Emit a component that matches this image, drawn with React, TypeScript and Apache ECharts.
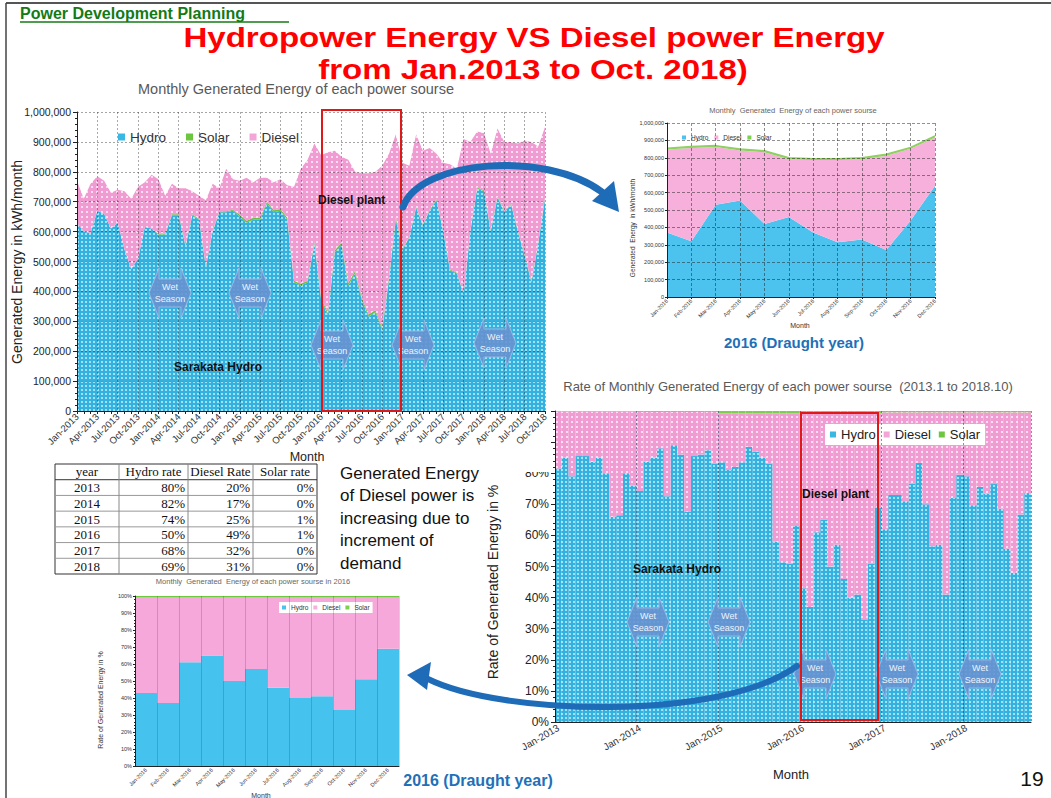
import React, { useEffect, useRef } from "react";
import * as echarts from "echarts";

const MONTH_NAMES = ["Jan", "Feb", "Mar", "Apr", "May", "Jun", "Jul", "Aug", "Sep", "Oct", "Nov", "Dec"];
const YEARS = [2013, 2014, 2015, 2016, 2017, 2018];
const months: string[] = [];
YEARS.forEach((y) => MONTH_NAMES.forEach((m, i) => { if (y < 2018 || i < 10) months.push(`${m}-${y}`); }));
const months2016 = MONTH_NAMES.map((m) => `${m}-2016`);

// Monthly generated energy, thousand kWh (Jan-2013 .. Oct-2018)
const hydroK = [
  630, 600, 595, 670, 660, 610, 630, 540, 475, 510, 615, 610,
  590, 590, 655, 655, 550, 655, 640, 480, 600, 665, 665, 670,
  650, 630, 640, 640, 695, 665, 670, 640, 430, 420, 430, 560,
  370, 320, 530, 555, 420, 460, 370, 315, 330, 270, 440, 640,
  540, 580, 680, 620, 670, 705, 600, 470, 460, 390, 600, 745,
  735, 600, 715, 665, 690, 600, 520, 430, 560, 710,
];
const solarK = [
  0, 0, 0, 0, 0, 0, 0, 0, 0, 0, 0, 0,
  3, 3, 3, 3, 3, 3, 3, 3, 3, 3, 3, 3,
  6, 6, 6, 6, 6, 6, 6, 6, 6, 6, 6, 6,
  8, 8, 8, 8, 8, 8, 8, 8, 8, 8, 8, 8,
  3, 3, 3, 3, 3, 3, 3, 3, 3, 3, 3, 3,
  3, 3, 3, 3, 3, 3, 3, 3, 3, 3,
];
const dieselK = [
  140, 110, 165, 115, 110, 120, 110, 195, 235, 240, 150, 180,
  182, 127, 102, 87, 192, 77, 77, 222, 157, 77, 142, 102,
  114, 144, 119, 134, 79, 94, 99, 109, 314, 384, 404, 329,
  477, 537, 332, 287, 412, 332, 417, 472, 462, 542, 412, 277,
  287, 237, 242, 247, 207, 152, 227, 352, 347, 517, 297, 187,
  192, 257, 227, 232, 207, 292, 382, 467, 322, 237,
];

// 2016 (thousand kWh)
const hydro2016K = [370, 320, 530, 555, 420, 460, 370, 315, 330, 270, 440, 640];
const diesel2016K = [477, 537, 332, 287, 412, 332, 417, 472, 462, 542, 412, 277];
const solar2016K = [8, 8, 8, 8, 8, 8, 8, 8, 8, 8, 8, 8];

// Rates (%)
const hydroRate = [
  81.5, 85, 79, 85.5, 85.5, 83.7, 85, 80, 66, 66.5, 80, 76,
  74.3, 83.7, 85, 88, 72.6, 89, 86, 67.7, 85.5, 86, 87.4, 83,
  83.5, 81, 82, 83.5, 88.5, 87, 85, 83, 58, 51.4, 51, 63,
  43, 37, 61, 65, 50, 57, 46, 40, 41, 33, 51, 69,
  62, 73, 73, 71, 76.7, 83.3, 70, 56.5, 57, 41, 72, 79.5,
  79, 69.7, 75.6, 73.4, 76.5, 68.6, 55.7, 48, 66.7, 73.6,
];
const solarRate = [
  0.2, 0.2, 0.2, 0.2, 0.2, 0.2, 0.2, 0.2, 0.2, 0.2, 0.2, 0.2,
  0.3, 0.3, 0.3, 0.3, 0.3, 0.3, 0.3, 0.3, 0.3, 0.3, 0.3, 0.3,
  0.8, 0.8, 0.8, 0.8, 0.8, 0.8, 0.8, 0.8, 0.8, 0.8, 0.8, 0.8,
  0.8, 0.8, 0.8, 0.8, 0.8, 0.8, 0.8, 0.8, 0.8, 0.8, 0.8, 0.8,
  0.4, 0.4, 0.4, 0.4, 0.4, 0.4, 0.4, 0.4, 0.4, 0.4, 0.4, 0.4,
  0.4, 0.4, 0.4, 0.4, 0.4, 0.4, 0.4, 0.4, 0.4, 0.4,
];
const hydroRate2016 = [43, 37, 61, 65, 50, 57, 46, 40, 41, 33, 51, 69];
const solarRate2016 = [0.8, 0.8, 0.8, 0.8, 0.8, 0.8, 0.8, 0.8, 0.8, 0.8, 0.8, 0.8];

const tableHeader = ["year", "Hydro rate", "Diesel Rate", "Solar rate"];
const tableRows = [
  ["2013", "80%", "20%", "0%"],
  ["2014", "82%", "17%", "0%"],
  ["2015", "74%", "25%", "1%"],
  ["2016", "50%", "49%", "1%"],
  ["2017", "68%", "32%", "0%"],
  ["2018", "69%", "31%", "0%"],
];

const dieselRate = hydroRate.map((h, i) => +(100 - h - solarRate[i]).toFixed(1));
const dieselRate2016 = hydroRate2016.map((h, i) => +(100 - h - solarRate2016[i]).toFixed(1));
const k = (a: number[]) => a.map((v) => v * 1000);

const SANS = '"Liberation Sans", Arial, sans-serif';
const SERIF = '"Liberation Serif", "Times New Roman", serif';
const C_HYDRO = "#41BDE8";
const C_DIESEL = "#F4A8D9";
const C_SOLAR = "#6DBE45";

function makePattern(base: string, dot: string, w: number, h: number, dw: number, dh: number): any {
  try {
    const c = document.createElement("canvas");
    c.width = w; c.height = h;
    const ctx = c.getContext("2d");
    if (!ctx) return base;
    ctx.fillStyle = base; ctx.fillRect(0, 0, w, h);
    ctx.fillStyle = dot; ctx.fillRect(1, 1, dw, dh);
    return { image: c, repeat: "repeat" };
  } catch (e) {
    return base;
  }
}

function wetArrow(cx: number, cy: number) {
  return {
    type: "group", x: cx, y: cy, z: 50,
    children: [
      {
        type: "polygon", z: 50,
        shape: { points: [[-21, 0], [-11, -25], [-11, -14], [11, -14], [11, -25], [21, 0], [11, 25], [11, 14], [-11, 14], [-11, 25]] },
        style: { fill: "#6694D0", stroke: "#9CBBE4", lineWidth: 1, opacity: 0.92 },
      },
      {
        type: "text", z: 51,
        style: { x: 0, y: 0, text: "Wet\nSeason", fill: "#EEF4FC", font: `9px ${SANS}`, textAlign: "center", textVerticalAlign: "middle", lineHeight: 12 },
      },
    ],
  };
}

function txt(x: number, y: number, text: string, font: string, fill = "#222", align = "center", extra: any = {}) {
  return { type: "text", x, y, z: 60, ...extra, style: { x: 0, y: 0, text, font, fill, textAlign: align, textVerticalAlign: "middle" } };
}

function buildTable() {
  const els: any[] = [];
  const xs = [55, 119, 188, 253, 317];
  const top = 464, bottom = 574;
  const rh = (bottom - top) / 7;
  els.push({ type: "rect", z: 60, shape: { x: xs[0], y: top, width: xs[4] - xs[0], height: bottom - top }, style: { fill: "#fff", stroke: "#333", lineWidth: 1 } });
  for (let r = 1; r < 7; r++) {
    els.push({ type: "line", z: 61, shape: { x1: xs[0], y1: top + r * rh, x2: xs[4], y2: top + r * rh }, style: { stroke: r === 1 ? "#333" : "#999", lineWidth: 1 } });
  }
  for (let c = 1; c < 4; c++) {
    els.push({ type: "line", z: 61, shape: { x1: xs[c], y1: top, x2: xs[c], y2: bottom }, style: { stroke: "#888", lineWidth: 1 } });
  }
  const font = `13px ${SERIF}`;
  tableHeader.forEach((h, c) => els.push(txt((xs[c] + xs[c + 1]) / 2, top + rh / 2, h, font, "#111")));
  tableRows.forEach((row, r) => {
    row.forEach((v, c) => {
      const y = top + (r + 1.5) * rh;
      if (c === 0) els.push(txt((xs[0] + xs[1]) / 2, y, v, font, "#111"));
      else els.push(txt(xs[c + 1] - 3, y, v, font, "#111", "right"));
    });
  });
  return els;
}

const graphics: any[] = [
  // frame
  { type: "line", z: 40, shape: { x1: 6, y1: 3, x2: 1051, y2: 3 }, style: { stroke: "#555", lineWidth: 2 } },
  { type: "line", z: 40, shape: { x1: 6, y1: 3, x2: 6, y2: 798 }, style: { stroke: "#444", lineWidth: 1.5 } },
  // heading
  { type: "text", x: 20, y: 13, z: 60, style: { x: 0, y: 0, text: "Power Development Planning", font: `bold 16px ${SANS}`, fill: "#147A14", textAlign: "left", textVerticalAlign: "middle" } },
  { type: "line", z: 60, shape: { x1: 20, y1: 22, x2: 289, y2: 22 }, style: { stroke: "#147A14", lineWidth: 1.5 } },
  { type: "text", x: 534, y: 37, z: 60, scaleX: 1.18, style: { x: 0, y: 0, text: "Hydropower Energy VS Diesel power Energy", font: `bold 28px ${SANS}`, fill: "#FF0000", textAlign: "center", textVerticalAlign: "middle" } },
  { type: "text", x: 533, y: 69, z: 60, scaleX: 1.18, style: { x: 0, y: 0, text: "from Jan.2013 to Oct. 2018)", font: `bold 28px ${SANS}`, fill: "#FF0000", textAlign: "center", textVerticalAlign: "middle" } },
  // main chart titles
  txt(296, 89, "Monthly Generated Energy of each power sourse", `14.5px ${SANS}`, "#595959"),
  txt(17, 262, "Generated Energy in kWh/month", `14px ${SANS}`, "#222", "center", { rotation: Math.PI / 2 }),
  txt(307, 457, "Month", `12.5px ${SANS}`, "#222"),
  // top-right chart texts
  txt(793, 110, "Monthly  Generated  Energy of each power sourse", `7.5px ${SANS}`, "#666"),
  txt(632, 228, "Generated  Energy  in kWh/month", `6.5px ${SANS}`, "#333", "center", { rotation: Math.PI / 2 }),
  txt(800, 325, "Month", `7px ${SANS}`, "#333"),
  txt(794, 342, "2016 (Draught year)", `bold 15px ${SANS}`, "#1E70B8"),
  // bottom-right chart texts
  txt(788, 386, "Rate of Monthly Generated Energy of each power sourse  (2013.1 to 2018.10)", `13px ${SANS}`, "#595959"),
  txt(493, 582, "Rate of Generated Energy in %", `14px ${SANS}`, "#222", "center", { rotation: Math.PI / 2 }),
  txt(791, 774, "Month", `13px ${SANS}`, "#222"),
  // bottom-left chart texts
  txt(253, 581, "Monthly  Generated  Energy of each power sourse in 2016", `7.5px ${SANS}`, "#666"),
  txt(100, 700, "Rate of Generated Energy in %", `7px ${SANS}`, "#333", "center", { rotation: Math.PI / 2 }),
  txt(261, 795, "Month", `7px ${SANS}`, "#333"),
  txt(478, 780, "2016 (Draught year)", `bold 16px ${SANS}`, "#1E70B8"),
  // annotation labels
  txt(318, 200, "Diesel plant", `bold 12px ${SANS}`, "#111", "left"),
  txt(174, 367, "Sarakata Hydro", `bold 12px ${SANS}`, "#111", "left"),
  txt(802, 494, "Diesel plant", `bold 12px ${SANS}`, "#111", "left"),
  txt(633, 569, "Sarakata Hydro", `bold 12px ${SANS}`, "#111", "left"),
  // paragraph
  { type: "text", x: 340, y: 462, z: 60, style: { x: 0, y: 0, text: "Generated Energy\nof Diesel power is\nincreasing due to\nincrement of\ndemand", font: `17px ${SANS}`, fill: "#111", textAlign: "left", textVerticalAlign: "top", lineHeight: 22.5 } },
  txt(1032, 778, "19", `21px ${SANS}`, "#111"),
  // cover the top half of the 80% label of the rate chart
  { type: "rect", z: 45, shape: { x: 518, y: 460, width: 33, height: 12 }, style: { fill: "#fff" } },
  // red boxes
  { type: "rect", z: 55, shape: { x: 322, y: 110, width: 79, height: 301 }, style: { fill: "none", stroke: "#E01818", lineWidth: 2 } },
  { type: "rect", z: 55, shape: { x: 801, y: 413, width: 77, height: 307 }, style: { fill: "none", stroke: "#E01818", lineWidth: 2 } },
  // wet season arrows
  wetArrow(170, 293), wetArrow(250, 293), wetArrow(332, 345), wetArrow(413, 345), wetArrow(495, 343),
  wetArrow(648, 622), wetArrow(729, 622), wetArrow(815, 674), wetArrow(897, 674), wetArrow(980, 674),
  // curved arrows
  { type: "bezierCurve", z: 58, shape: { x1: 403, y1: 207, cpx1: 420, cpy1: 160, cpx2: 545, cpy2: 150, x2: 602, y2: 192 }, style: { stroke: "#1E6BB8", lineWidth: 7, fill: "none", lineCap: "round" } },
  { type: "polygon", z: 58, shape: { points: [[592, 201], [614, 181], [619, 212]] }, style: { fill: "#1E6BB8" } },
  { type: "bezierCurve", z: 58, shape: { x1: 797, y1: 666, cpx1: 720, cpy1: 722, cpx2: 500, cpy2: 715, x2: 428, y2: 679 }, style: { stroke: "#1E6BB8", lineWidth: 6, fill: "none", lineCap: "round" } },
  { type: "polygon", z: 58, shape: { points: [[407, 675], [431, 662], [427, 690]] }, style: { fill: "#1E6BB8" } },
  ...buildTable(),
];

const black = { lineStyle: { color: "#222", width: 1 } };
const tinyLabel = { fontSize: 5.5, color: "#333", fontFamily: SANS };

const legendItems = (names: string[], colors: Record<string, string>) =>
  names.map((n) => ({ name: n, itemStyle: { color: colors[n] } }));

function buildOption() {
  const pHydro = makePattern("#33B2E0", "#A2E0F5", 4, 4, 2, 2);
  const pDiesel = makePattern("#F09BD1", "#FDDDF1", 5, 5, 2, 2);
  const pHydroBar = makePattern("#33B2E0", "#A2E0F5", 4, 4, 2, 2);
  const pDieselBar = makePattern("#F09BD1", "#FDDDF1", 5, 5, 2, 2);
  const big = { Hydro: "#3AB8E4", Diesel: "#F3A5D7", Solar: "#6CC63E" };
  const small = { Hydro: "#4CC3EE", Diesel: "#F7B0DC", Solar: "#7FCF4F" };
  return {
    animation: false,
    backgroundColor: "#fff",
    grid: [
      { left: 77, top: 112, width: 468, height: 299 },
      { left: 667, top: 123, width: 268, height: 174 },
      { left: 555, top: 411, width: 476, height: 311 },
      { left: 135, top: 596, width: 264, height: 170 },
    ],
    legend: [
      { left: 113, top: 125, icon: "rect", itemWidth: 7, itemHeight: 7, itemGap: 20, data: legendItems(["Hydro", "Solar", "Diesel"], big), textStyle: { fontSize: 13.5, color: "#333", fontFamily: SANS } },
      { left: 681, top: 133, icon: "rect", itemWidth: 4, itemHeight: 4, itemGap: 6, data: legendItems(["Hydro", "Diesel", "Solar"], small), textStyle: { fontSize: 6.5, color: "#333", fontFamily: SANS }, padding: 1 },
      { left: 825, top: 424, icon: "rect", itemWidth: 6, itemHeight: 6, itemGap: 8, data: legendItems(["Hydro", "Diesel", "Solar"], big), backgroundColor: "#fff", padding: [4, 5], textStyle: { fontSize: 13, color: "#222", fontFamily: SANS } },
      { left: 279, top: 602, icon: "rect", itemWidth: 4, itemHeight: 4, itemGap: 5, data: legendItems(["Hydro", "Diesel", "Solar"], small), backgroundColor: "#fff", padding: [2, 3], textStyle: { fontSize: 6.5, color: "#333", fontFamily: SANS } },
    ],
    xAxis: [
      {
        gridIndex: 0, type: "category", data: months, boundaryGap: false, z: 5,
        axisLine: black, axisTick: { interval: 0, length: 3, lineStyle: { color: "#222" } },
        axisLabel: { interval: 2, rotate: 45, fontSize: 9.5, color: "#333", fontFamily: SANS, margin: 4 },
        splitLine: { show: true, interval: 2, lineStyle: { color: "rgba(40,40,40,0.5)", width: 0.8, type: [2, 2] } },
      },
      {
        gridIndex: 1, type: "category", data: months2016, boundaryGap: false, z: 5,
        axisLine: black, axisTick: { interval: 0, length: 2 },
        axisLabel: { ...tinyLabel, interval: 0, rotate: 45, margin: 3 },
        splitLine: { show: true, interval: 0, lineStyle: { color: "rgba(30,30,30,0.7)", width: 0.7, type: [3, 2] } },
      },
      {
        gridIndex: 2, type: "category", data: months, boundaryGap: true, z: 5,
        axisLine: black, axisTick: { interval: 0, length: 3, lineStyle: { color: "#222" } },
        axisLabel: { interval: (i: number) => i % 12 === 0, rotate: 30, fontSize: 10, color: "#333", fontFamily: SANS, margin: 5 },
        splitLine: { show: true, interval: (i: number) => i % 12 === 0 && i > 0, lineStyle: { color: "rgba(30,60,100,0.55)", width: 1, type: [2, 2] } },
      },
      {
        gridIndex: 3, type: "category", data: months2016, boundaryGap: true, z: 5,
        axisLine: black, axisTick: { interval: 0, length: 2 },
        axisLabel: { ...tinyLabel, interval: 0, rotate: 45, margin: 3 },
        splitLine: { show: true, interval: 0, lineStyle: { color: "rgba(40,40,90,0.3)", width: 0.7 } },
      },
    ],
    yAxis: [
      {
        gridIndex: 0, type: "value", min: 0, max: 1000000, interval: 100000, z: 5,
        axisLine: { show: true, ...black }, axisTick: { show: true, length: 4 },
        minorTick: { show: true, splitNumber: 5, length: 2 },
        axisLabel: { fontSize: 10.5, color: "#222", fontFamily: SANS, margin: 6, formatter: (v: number) => v.toLocaleString("en-US") },
        splitLine: { show: true, lineStyle: { color: "rgba(30,30,30,0.5)", width: 0.8, type: [2, 2] } },
      },
      {
        gridIndex: 1, type: "value", min: 0, max: 1000000, interval: 100000, z: 5,
        axisLine: { show: true, ...black }, axisTick: { show: true, length: 2 },
        axisLabel: { ...tinyLabel, margin: 3, formatter: (v: number) => v.toLocaleString("en-US") },
        splitLine: { show: true, lineStyle: { color: "rgba(30,30,30,0.7)", width: 0.7, type: [3, 2] } },
      },
      {
        gridIndex: 2, type: "value", min: 0, max: 100, interval: 10, z: 5,
        axisLine: { show: true, ...black }, axisTick: { show: true, length: 4 },
        minorTick: { show: true, splitNumber: 5, length: 2 },
        axisLabel: { fontSize: 12, color: "#222", fontFamily: SANS, margin: 6, formatter: (v: number) => (v >= 90 ? "" : `${v}%`) },
        splitLine: { show: false },
      },
      {
        gridIndex: 3, type: "value", min: 0, max: 100, interval: 10, z: 5,
        axisLine: { show: true, ...black }, axisTick: { show: true, length: 2 },
        minorTick: { show: true, splitNumber: 5, length: 1 },
        axisLabel: { ...tinyLabel, margin: 3, formatter: (v: number) => `${v}%` },
        splitLine: { show: false },
      },
    ],
    series: [
      // main monthly energy
      { name: "Hydro", type: "line", xAxisIndex: 0, yAxisIndex: 0, stack: "m", data: k(hydroK), symbol: "none", lineStyle: { width: 0 }, itemStyle: { color: C_HYDRO }, areaStyle: { color: pHydro, opacity: 1 } },
      { name: "Solar", type: "line", xAxisIndex: 0, yAxisIndex: 0, stack: "m", data: k(solarK), symbol: "none", lineStyle: { width: 0 }, itemStyle: { color: C_SOLAR }, areaStyle: { color: C_SOLAR, opacity: 1 } },
      { name: "Diesel", type: "line", xAxisIndex: 0, yAxisIndex: 0, stack: "m", data: k(dieselK), symbol: "none", lineStyle: { width: 0 }, itemStyle: { color: C_DIESEL }, areaStyle: { color: pDiesel, opacity: 1 } },
      // 2016 monthly energy
      { name: "Hydro", type: "line", xAxisIndex: 1, yAxisIndex: 1, stack: "t", data: k(hydro2016K), symbol: "none", lineStyle: { width: 0 }, itemStyle: { color: "#4CC3EE" }, areaStyle: { color: "#4CC3EE", opacity: 1 } },
      { name: "Diesel", type: "line", xAxisIndex: 1, yAxisIndex: 1, stack: "t", data: k(diesel2016K), symbol: "none", lineStyle: { width: 0 }, itemStyle: { color: "#F7B0DC" }, areaStyle: { color: "#F7B0DC", opacity: 1 } },
      { name: "Solar", type: "line", xAxisIndex: 1, yAxisIndex: 1, stack: "t", data: k(solar2016K), symbol: "none", lineStyle: { width: 1.5, color: "#8FD160" }, itemStyle: { color: "#8FD160" }, areaStyle: { color: "#8FD160", opacity: 1 } },
      // rate 2013-2018
      { name: "Hydro", type: "bar", xAxisIndex: 2, yAxisIndex: 2, stack: "r", barCategoryGap: "0%", data: hydroRate, itemStyle: { color: pHydroBar } },
      { name: "Diesel", type: "bar", xAxisIndex: 2, yAxisIndex: 2, stack: "r", barCategoryGap: "0%", data: dieselRate, itemStyle: { color: pDieselBar } },
      { name: "Solar", type: "bar", xAxisIndex: 2, yAxisIndex: 2, stack: "r", barCategoryGap: "0%", data: solarRate, itemStyle: { color: "#7DD04B" } },
      // rate 2016
      { name: "Hydro", type: "bar", xAxisIndex: 3, yAxisIndex: 3, stack: "b", barCategoryGap: "0%", data: hydroRate2016, itemStyle: { color: "#45C3EE" } },
      { name: "Diesel", type: "bar", xAxisIndex: 3, yAxisIndex: 3, stack: "b", barCategoryGap: "0%", data: dieselRate2016, itemStyle: { color: "#F7A8DA" } },
      { name: "Solar", type: "bar", xAxisIndex: 3, yAxisIndex: 3, stack: "b", barCategoryGap: "0%", data: solarRate2016, itemStyle: { color: "#6CCB3E" } },
    ],
    graphic: { elements: graphics },
  };
}

export default function App() {
  const ref = useRef<HTMLDivElement>(null);
  useEffect(() => {
    const chart = echarts.init(ref.current!, null, { renderer: "svg", width: 1051, height: 798 });
    chart.setOption(buildOption() as any);
    return () => chart.dispose();
  }, []);
  return <div ref={ref} style={{ position: "absolute", left: 0, top: 0, width: 1051, height: 798, background: "#fff" }} />;
}
